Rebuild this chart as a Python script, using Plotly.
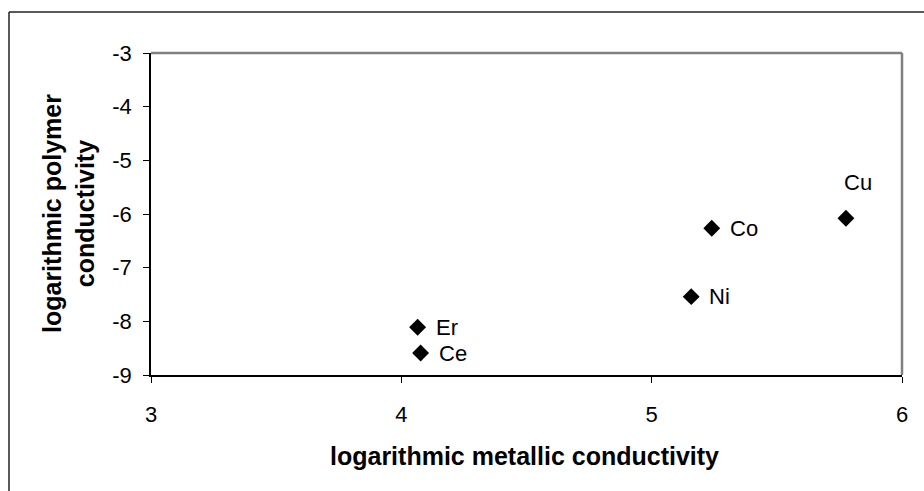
import plotly.graph_objects as go

# Metal dopants: log10 metallic conductivity vs log10 polymer conductivity
metals = ["Er", "Ce", "Ni", "Co", "Cu"]
log_metal = [4.065, 4.077, 5.158, 5.24, 5.776]
log_polymer = [-8.11, -8.59, -7.54, -6.265, -6.08]
label_side = ["right", "right", "right", "right", "above"]

x_ticks = [3, 4, 5, 6]
y_ticks = [-3, -4, -5, -6, -7, -8, -9]

FONT = "Liberation Sans, Arial, sans-serif"

fig = go.Figure(
    go.Scatter(
        x=log_metal,
        y=log_polymer,
        mode="markers",
        marker=dict(symbol="diamond", size=13, color="black"),
        cliponaxis=False,
        showlegend=False,
    )
)

fig.update_xaxes(
    range=[3, 6],
    tickvals=x_ticks,
    ticktext=[str(v) for v in x_ticks],
    ticks="outside",
    ticklen=6,
    tickcolor="black",
    ticklabelstandoff=13,
    tickfont=dict(family=FONT, size=22, color="black"),
    showline=True,
    linecolor="black",
    linewidth=1.5,
    showgrid=False,
    zeroline=False,
)
fig.update_yaxes(
    range=[-9, -3],
    tickvals=y_ticks,
    ticktext=[str(v) for v in y_ticks],
    ticks="outside",
    ticklen=6,
    tickcolor="black",
    ticklabelstandoff=7,
    tickfont=dict(family=FONT, size=22, color="black"),
    showline=True,
    linecolor="black",
    linewidth=1.5,
    showgrid=False,
    zeroline=False,
)

W, H = 924, 491
L, R, T, B = 151, 22, 53, 116
pw, ph = W - L - R, H - T - B

shapes = [
    # gray top and right edges of the plot area
    dict(type="line", xref="paper", yref="paper", x0=0, x1=1, y0=1, y1=1,
         line=dict(color="#808080", width=2.5)),
    dict(type="line", xref="paper", yref="paper", x0=1, x1=1, y0=0, y1=1,
         line=dict(color="#808080", width=2.5)),
    # outer chart frame (top and left edges)
    dict(type="line", xref="paper", yref="paper",
         x0=(9 - L) / pw, x1=(W + 5 - L) / pw,
         y0=1 + (T - 12) / ph, y1=1 + (T - 12) / ph,
         line=dict(color="#222222", width=1.5)),
    dict(type="line", xref="paper", yref="paper",
         x0=(9 - L) / pw, x1=(9 - L) / pw,
         y0=1 + (T - 12) / ph, y1=-(B + 5) / ph,
         line=dict(color="#222222", width=1.5)),
]

annotations = [
    dict(text="<b>logarithmic metallic conductivity</b>", xref="paper", yref="paper",
         x=0.498, y=(375 - 456) / ph, showarrow=False, xanchor="center", yanchor="middle",
         font=dict(family=FONT, size=25, color="black")),
    dict(text="<b>logarithmic polymer<br>conductivity</b>", xref="paper", yref="paper",
         x=(68 - L) / pw, y=0.5, showarrow=False, xanchor="center", yanchor="middle",
         textangle=-90, font=dict(family=FONT, size=25, color="black")),
]

# point labels placed next to each marker
for name, xv, yv, side in zip(metals, log_metal, log_polymer, label_side):
    if side == "right":
        annotations.append(dict(text=name, x=xv, y=yv, xref="x", yref="y",
                                showarrow=False, xanchor="left", yanchor="middle",
                                xshift=16, font=dict(family=FONT, size=22, color="black")))
    else:
        annotations.append(dict(text=name, x=xv, y=yv, xref="x", yref="y",
                                showarrow=False, xanchor="center", yanchor="middle",
                                xshift=12, yshift=36, font=dict(family=FONT, size=22, color="black")))

fig.update_layout(
    width=W,
    height=H,
    margin=dict(l=L, r=R, t=T, b=B),
    paper_bgcolor="white",
    plot_bgcolor="white",
    shapes=shapes,
    annotations=annotations,
)

fig.write_html("out.html")
